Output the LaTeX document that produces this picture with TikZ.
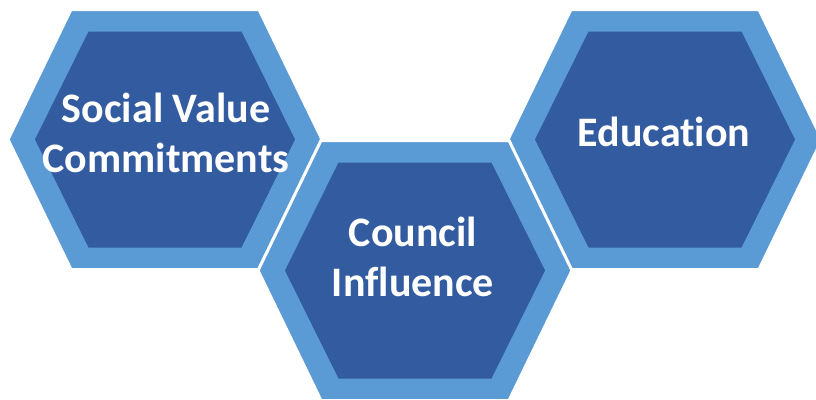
\documentclass[tikz,border=0pt]{standalone}
\usepackage{fontspec}
\setmainfont{Carlito}[Ligatures=NoCommon]
\definecolor{hexouter}{RGB}{91,155,213}
\definecolor{hexinner}{RGB}{50,91,160}
\newcommand{\hexcell}[3]{%
  \coordinate (#1) at (#2,#3);
  \fill[hexouter,draw=white,line width=3pt,line join=miter]
    ($(#1)+(-94,-130)$) -- ($(#1)+(94,-130)$) -- ($(#1)+(157,0)$) --
    ($(#1)+(94,130)$) -- ($(#1)+(-94,130)$) -- ($(#1)+(-157,0)$) -- cycle;
  \fill[hexinner]
    ($(#1)+(-76.5,-108)$) -- ($(#1)+(76.5,-108)$) -- ($(#1)+(130,0)$) --
    ($(#1)+(76.5,108)$) -- ($(#1)+(-76.5,108)$) -- ($(#1)+(-130,0)$) -- cycle;
}
\usetikzlibrary{calc}
\tikzset{hexlabel/.style={text=white,font=\fontsize{42}{50}\selectfont\bfseries,align=center,inner sep=0pt,anchor=base}}
\begin{document}
\begin{tikzpicture}[x=1pt,y=-1pt]
\useasboundingbox (0,0) rectangle (816,399);
\hexcell{h1}{165}{139.5}
\hexcell{h3}{665}{139.5}
\hexcell{h2}{415}{270.5}
\node[hexlabel] (t1) at (166,172) {Social Value\\Commitments};
\node[hexlabel] (t2) at (413,296) {Council\\Influence};
\node[hexlabel] (t3) at (664,146) {Education};
\end{tikzpicture}
\end{document}
